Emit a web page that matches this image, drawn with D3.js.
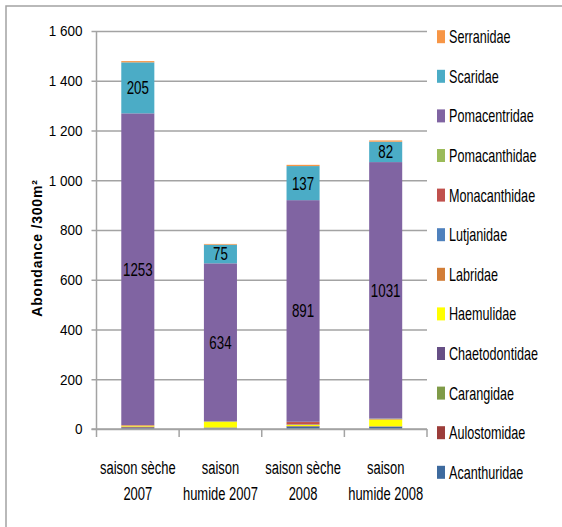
<!DOCTYPE html>
<html>
<head>
<meta charset="utf-8">
<script src="https://cdn.jsdelivr.net/npm/d3@7"></script>
<style>
  html, body { margin: 0; padding: 0; background: #fff; }
  svg { display: block; }
  .lbl { font-family: "Liberation Sans Narrow", "Arial Narrow", "Liberation Sans", sans-serif; fill: #000; }
</style>
</head>
<body>
<svg id="chart" width="562" height="527"></svg>
<script>
// Seasons (two-line category labels)
const categories = [
  ["saison sèche", "2007"],
  ["saison", "humide 2007"],
  ["saison sèche", "2008"],
  ["saison", "humide 2008"]
];

// Fish families, in stacking order (bottom to top)
const families = [
  "Acanthuridae", "Aulostomidae", "Carangidae", "Chaetodontidae", "Haemulidae",
  "Labridae", "Lutjanidae", "Monacanthidae", "Pomacanthidae", "Pomacentridae",
  "Scaridae", "Serranidae"
];

// Abundance per 300 m² for each family, one value per season
const acanthuridae   = [6, 3, 8, 8];
const aulostomidae   = [3, 0, 2, 1];
const carangidae     = [1, 1, 1, 1];
const chaetodontidae = [0, 2, 1, 1];
const haemulidae     = [3, 22, 4, 27];
const labridae       = [2, 2, 2, 2];
const lutjanidae     = [0, 1, 1, 1];
const monacanthidae  = [1, 0, 9, 0];
const pomacanthidae  = [0, 1, 1, 1];
const pomacentridae  = [1253, 634, 891, 1031];
const scaridae       = [205, 75, 137, 82];
const serranidae     = [5, 3, 5, 5];

const yTicks = [0, 200, 400, 600, 800, 1000, 1200, 1400, 1600];

// Families whose values are printed inside the bars
const labelled = ["Pomacentridae", "Scaridae"];

const colors = {
  Acanthuridae:   "#3E6A9E",
  Aulostomidae:   "#9C3D3A",
  Carangidae:     "#7F9B48",
  Chaetodontidae: "#664F85",
  Haemulidae:     "#FFFF00",
  Labridae:       "#D27D37",
  Lutjanidae:     "#4F81BD",
  Monacanthidae:  "#C0504D",
  Pomacanthidae:  "#9BBB59",
  Pomacentridae:  "#8064A2",
  Scaridae:       "#4BACC6",
  Serranidae:     "#F79646"
};

const seriesValues = [
  acanthuridae, aulostomidae, carangidae, chaetodontidae, haemulidae, labridae,
  lutjanidae, monacanthidae, pomacanthidae, pomacentridae, scaridae, serranidae
];

// Build table rows for d3.stack
const rows = categories.map((c, i) => {
  const r = { key: c.join(" ") };
  families.forEach((f, j) => { r[f] = seriesValues[j][i]; });
  return r;
});

const svg = d3.select("#chart");
const gridColor = "#a3a3a3";

// Outer frame
svg.append("rect")
  .attr("x", 6).attr("y", 6).attr("width", 600).attr("height", 600)
  .attr("fill", "none").attr("stroke", gridColor).attr("stroke-width", 1.5);

const plot = { left: 96.5, right: 427, top: 31, bottom: 429 };

const x = d3.scaleBand()
  .domain(rows.map(r => r.key))
  .range([plot.left, plot.right])
  .paddingInner(0.6)
  .paddingOuter(0.3);

const y = d3.scaleLinear().domain([0, 1600]).range([plot.bottom, plot.top]);

const fmt = d3.formatLocale({ decimal: ",", thousands: " ", grouping: [3], currency: ["", ""] }).format(",d");

// Horizontal gridlines with left tick marks
const yAxis = d3.axisLeft(y).tickValues(yTicks).tickFormat(fmt)
  .tickSize(-(plot.right - plot.left)).tickSizeOuter(0).tickPadding(14);
const gy = svg.append("g").attr("transform", `translate(${plot.left},0)`).call(yAxis);
gy.select(".domain").remove();
gy.selectAll(".tick line")
  .attr("x1", -5)
  .attr("stroke", gridColor).attr("stroke-width", 1.5);
gy.selectAll(".tick text")
  .attr("class", "lbl ytick")
  .attr("font-size", 15)
  .attr("fill", "#000");

// Vertical axis line
svg.append("line")
  .attr("x1", plot.left).attr("x2", plot.left)
  .attr("y1", plot.top).attr("y2", plot.bottom)
  .attr("stroke", gridColor).attr("stroke-width", 1.5);

// Category boundary ticks below the baseline
const bounds = d3.range(categories.length + 1).map(i => plot.left + i * (plot.right - plot.left) / categories.length);
svg.append("g").selectAll("line").data(bounds).join("line")
  .attr("x1", d => d).attr("x2", d => d)
  .attr("y1", plot.bottom).attr("y2", plot.bottom + 8)
  .attr("stroke", gridColor).attr("stroke-width", 1.5);

// Stacked bars
const stack = d3.stack().keys(families)(rows);
const layers = svg.append("g").selectAll("g").data(stack).join("g")
  .attr("fill", d => colors[d.key]);
layers.selectAll("rect").data(d => d).join("rect")
  .attr("x", d => x(d.data.key))
  .attr("width", x.bandwidth())
  .attr("y", d => y(d[1]))
  .attr("height", d => Math.max(0, y(d[0]) - y(d[1])));

// Value labels inside the two main segments
stack.filter(s => labelled.includes(s.key)).forEach(s => {
  svg.append("g").selectAll("text").data(s).join("text")
    .attr("class", "lbl vlab")
    .attr("x", d => x(d.data.key) + x.bandwidth() / 2)
    .attr("y", d => y((d[0] + d[1]) / 2))
    .attr("dy", "0.36em")
    .attr("text-anchor", "middle")
    .attr("font-size", 18)
    .text(d => d.data[s.key]);
});

// Category labels (two lines)
rows.forEach((d, i) => {
  const cx = x(d.key) + x.bandwidth() / 2;
  categories[i].forEach((line, k) => {
    svg.append("text")
      .attr("class", "lbl xlab")
      .attr("text-anchor", "middle")
      .attr("font-size", 18)
      .attr("x", cx).attr("y", 474 + k * 26)
      .text(line);
  });
});

// Baseline
svg.append("line")
  .attr("x1", plot.left - 5).attr("x2", plot.right)
  .attr("y1", plot.bottom).attr("y2", plot.bottom)
  .attr("stroke", gridColor).attr("stroke-width", 1.5);

// Y-axis title
svg.append("text")
  .attr("transform", "translate(42,248) rotate(-90)")
  .attr("text-anchor", "middle")
  .attr("font-family", "'Liberation Sans', Arial, sans-serif")
  .attr("font-weight", "bold")
  .attr("font-size", 14)
  .attr("letter-spacing", 0.8)
  .attr("fill", "#000")
  .text("Abondance  /300m²");

// Legend, top entry is the last stacked family
const legendOrder = families.slice().reverse();
const lg = svg.append("g").selectAll("g").data(legendOrder).join("g")
  .attr("transform", (d, i) => `translate(437,${36.7 + i * 39.6})`);
lg.append("rect")
  .attr("x", 0).attr("y", -6.5).attr("width", 8).attr("height", 13)
  .attr("fill", d => colors[d]);
// Tall, narrow legend lettering
lg.append("text")
  .attr("class", "lbl leg")
  .attr("transform", "translate(12,0) scale(0.9,1.28)")
  .attr("dy", "0.36em")
  .attr("font-size", 14)
  .text(d => d);

// Condense labels horizontally to the narrow face
function condense(sel, f) {
  sel.each(function() {
    const len = this.getComputedTextLength();
    d3.select(this).attr("textLength", len * f).attr("lengthAdjust", "spacingAndGlyphs");
  });
}
condense(svg.selectAll(".vlab"), 0.74);
condense(svg.selectAll(".xlab"), 0.72);
condense(svg.selectAll(".ytick"), 0.9);
</script>
</body>
</html>
